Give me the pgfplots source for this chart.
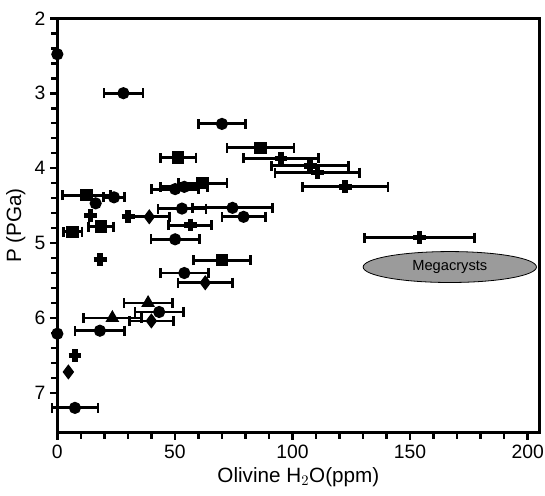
\documentclass[border=0pt]{standalone}
\usepackage{fontspec}
\setmainfont{Liberation Sans}
\usepackage{pgfplots}
\pgfplotsset{compat=1.18}
\definecolor{megagray}{RGB}{155,155,155}

\pgfplotsset{
    every error bar/.append style={line width=2.2pt},
    pts/.style={only marks, black, line width=1.5pt},
    plus/.style={mark=+, mark size=4.8pt, mark options={line width=4pt}},
    xerr/.style={
        error bars/.cd,
        x dir=both, x explicit,
        error mark=|,
        error mark options={line width=2pt, mark size=3.8pt},
    },
}

\begin{document}
\begin{tikzpicture}
\begin{axis}[
    scale only axis,
    width=361.6pt, height=310.8pt,
    xmin=0, xmax=205,
    ymin=2, ymax=7.53,
    y dir=reverse,
    axis line style={line width=2.3pt},
    xtick={0,50,100,150,200},
    ytick={2,3,4,5,6,7},
    minor x tick num=4,
    minor y tick num=4,
    tick align=outside,
    xtick pos=lower, ytick pos=left,
    major tick length=5.5pt, minor tick length=4.5pt,
    every tick/.style={black, line width=2pt},
    /pgf/number format/assume math mode=true,
    tick label style={font=\fontsize{14.5}{16}\selectfont},
    label style={font=\fontsize{15.5}{18}\selectfont},
    xlabel={Olivine H$_2$O(ppm)},
    ylabel={P (PGa)},
    clip=false,
]
% circles with error bars
\addplot[pts, mark=*, mark size=3.8pt, xerr]
    table[x error=ex] {
x     y     ex
28.1  3.00  8.3
70.0  3.41  10.1
50.1  4.28  10.0
54.0  4.25  10.0
24.1  4.39  4.5
53.0  4.54  10.2
74.5  4.53  17.0
79.2  4.65  9.2
50.1  4.95  10.3
54.0  5.40  10.2
43.3  5.92  10.3
18.1  6.17  10.6
7.5   7.20  9.8
};
\addplot[pts, mark=*, mark size=3.8pt] coordinates {
    (0,2.48) (16.3,4.47) (0,6.21)
};
% squares
\addplot[pts, mark=square*, mark size=3.9pt, xerr]
    table[x error=ex] {
x     y     ex
86.4  3.73  14.3
51.4  3.86  7.5
61.8  4.20  10.3
12.4  4.36  10.2
18.5  4.78  5.3
6.5   4.85  4.0
70.0  5.23  12.2
};
% pluses
\addplot[pts, plus, xerr]
    table[x error=ex] {
x      y     ex
56.5   4.76  9.2
95.1   3.87  16.0
107.5  3.97  16.3
110.5  4.06  18.0
122.4  4.25  18.2
154.0  4.93  23.5
};
\addplot[pts, plus] coordinates {
    (14.2,4.63) (30.1,4.65) (18.2,5.22) (7.5,6.50)
};
% diamonds
\addplot[pts, mark=diamond*, mark size=4.5pt, xerr]
    table[x error=ex] {
x     y     ex
39.1  4.65  8.5
62.9  5.53  11.6
40.0  6.04  9.3
};
\addplot[pts, mark=diamond*, mark size=4.5pt] coordinates {
    (4.7,6.72)
};
% triangles
\addplot[pts, mark=triangle*, mark size=4.5pt, xerr]
    table[x error=ex] {
x     y     ex
38.6  5.80  10.3
23.4  6.00  12.4
};
\draw[fill=megagray, line width=0.6pt] (axis cs:166.9,5.32) ellipse [x radius=65pt, y radius=11.6pt];
\node[font=\fontsize{11}{13}\selectfont] at (axis cs:166.9,5.32) {Megacrysts};
\end{axis}
\pgfresetboundingbox
\path[use as bounding box] (-43pt,-47.5pt) rectangle (365.8pt,324.5pt);
\end{tikzpicture}
\end{document}
